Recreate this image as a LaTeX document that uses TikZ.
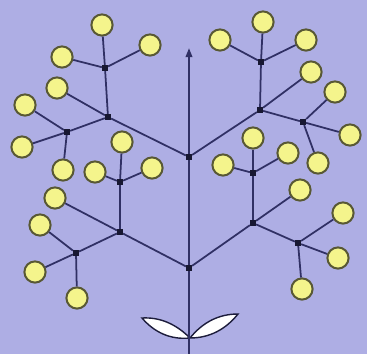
\documentclass[tikz,border=0pt]{standalone}
\usepackage{tikz}
\usetikzlibrary{arrows.meta}
\definecolor{bglilac}{RGB}{174,174,228}
\definecolor{petal}{RGB}{244,244,140}
\definecolor{petalrim}{RGB}{88,88,52}
\definecolor{stemblue}{RGB}{48,48,100}

\begin{document}
\begin{tikzpicture}[x=0.05cm, y=-0.05cm,
  flower/.style={circle, draw=petalrim, line width=2.8pt, fill=petal,
    minimum size=1.06cm, inner sep=0pt},
  knot/.style={rectangle, fill=stemblue!50!black, minimum size=0.3cm, inner sep=0pt},
  twig/.style={draw=stemblue, line width=2.5pt},
  leaf/.style={draw=stemblue!60!black, line width=2pt, fill=white}]
  \fill[bglilac] (0,0) rectangle (367,354);
  \useasboundingbox (0,0) rectangle (367,354);

  % seed leaves at the foot of the axis
  \coordinate (foot) at (189,354);
  \coordinate (apex) at (189,48);
  \coordinate (base) at (190,338);
  \draw[leaf] (base) .. controls (176,324) and (160,317) .. (142,318)
                     .. controls (154,332) and (170,340) .. (base);
  \draw[leaf] (base) .. controls (203,322) and (219,314) .. (238,314)
                     .. controls (226,329) and (210,338) .. (base);

  % branching points
  \foreach \n/\x/\y in {n1/189/268, n2/189/157,
      l1/120/232, r1/253/223, l2/108/117, r2/260/110,
      l1u/120/182, l1s/76/253, r1u/253/173, r1s/298/243,
      l2u/105/68, l2s/67/132, r2u/261/62, r2s/303/122}
    \node[knot] (\n) at (\x,\y) {};

  % flowers
  \foreach \n/\x/\y in {
      l1e/55/198, l1ua/122/142, l1ub/95/172, l1uc/152/168,
      l1sa/35/272, l1sb/40/225, l1sc/77/298,
      r1e/300/190, r1ua/253/138, r1ub/223/165, r1uc/288/153,
      r1sa/338/258, r1sb/343/213, r1sc/302/289,
      l2e/57/88, l2ua/102/25, l2ub/62/57, l2uc/150/45,
      l2sa/22/147, l2sb/25/105, l2sc/63/170,
      r2e/311/72, r2ua/263/22, r2ub/220/40, r2uc/306/40,
      r2sa/350/135, r2sb/335/92, r2sc/318/163}
    \node[flower] (\n) at (\x,\y) {};

  % main axis
  \draw[twig, line width=3pt] (foot) -- (n1);
  \draw[twig, line width=3pt] (n1) -- (n2);
  \draw[twig, line width=3pt, -{Triangle[length=0.45cm, width=0.32cm]}] (n2) -- (apex);

  % branches and pedicels
  \foreach \a/\b in {n1/l1, l1/l1e, n1/r1, r1/r1e, n2/l2, l2/l2e, n2/r2, r2/r2e,
      l1/l1u, l1/l1s, r1/r1u, r1/r1s, l2/l2u, l2/l2s, r2/r2u, r2/r2s,
      l1u/l1ua, l1u/l1ub, l1u/l1uc, l1s/l1sa, l1s/l1sb, l1s/l1sc,
      r1u/r1ua, r1u/r1ub, r1u/r1uc, r1s/r1sa, r1s/r1sb, r1s/r1sc,
      l2u/l2ua, l2u/l2ub, l2u/l2uc, l2s/l2sa, l2s/l2sb, l2s/l2sc,
      r2u/r2ua, r2u/r2ub, r2u/r2uc, r2s/r2sa, r2s/r2sb, r2s/r2sc}
    \draw[twig] (\a) -- (\b);
\end{tikzpicture}
\end{document}
